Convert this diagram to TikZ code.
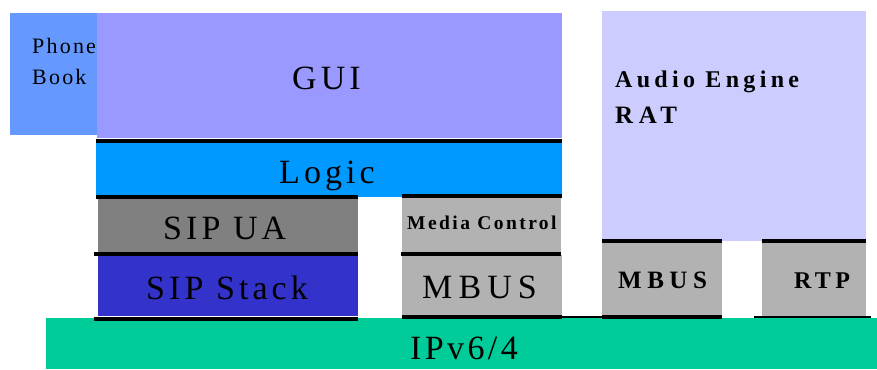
\documentclass[tikz,border=0pt]{standalone}
\usepackage{fontspec}
\setmainfont{Liberation Serif}
\newfontfamily\lsreg[LetterSpace=12]{Liberation Serif}
\newfontfamily\lsregw[LetterSpace=18]{Liberation Serif}
\newfontfamily\lsregn[LetterSpace=10]{Liberation Serif}
\newfontfamily\lsbold[LetterSpace=18]{Liberation Serif}
\newfontfamily\lsboldw[LetterSpace=22]{Liberation Serif}
\newfontfamily\lsboldn[LetterSpace=12.5]{Liberation Serif}
\definecolor{phonec}{HTML}{6699FF}
\definecolor{guic}{HTML}{9999FF}
\definecolor{logicc}{HTML}{0099FF}
\definecolor{uac}{HTML}{808080}
\definecolor{stackc}{HTML}{3333CC}
\definecolor{greyc}{HTML}{B2B2B2}
\definecolor{ipc}{HTML}{00CC99}
\definecolor{audioc}{HTML}{CCCCFF}
\tikzset{
  lbl/.style={anchor=base west, inner sep=0pt, text=black},
  big/.style={lbl, font=\lsreg\fontsize{34}{40}\selectfont},
  bigw/.style={lbl, font=\lsregw\fontsize{34}{40}\selectfont},
  bign/.style={lbl, font=\lsregn\fontsize{34}{40}\selectfont},
  midb/.style={lbl, font=\lsbold\bfseries\fontsize{24}{28}\selectfont},
  midbw/.style={lbl, font=\lsboldw\bfseries\fontsize{25}{28}\selectfont},
  smallb/.style={lbl, font=\lsboldn\bfseries\fontsize{19.5}{24}\selectfont},
  phonef/.style={lbl, font=\lsregn\fontsize{22}{26}\selectfont},
  bar/.style={line width=4pt, black},
  thinbar/.style={line width=2.5pt, black}
}
\begin{document}
\begin{tikzpicture}[x=1pt,y=-1pt]
\useasboundingbox (0,0) rectangle (877,369);
% boxes
\fill[phonec] (10,13) rectangle (99,135);
\fill[guic] (97,13) rectangle (562,138);
\fill[logicc] (96,142) rectangle (562,197);
\fill[uac] (98,199) rectangle (358,252);
\fill[stackc] (98,255) rectangle (358,316);
\fill[greyc] (402,198) rectangle (561,253);
\fill[greyc] (402,255) rectangle (562,316);
\fill[ipc] (46,318) rectangle (877,369);
\fill[audioc] (602,11) rectangle (866,241);
\fill[greyc] (602,241) rectangle (722,316);
\fill[greyc] (762,241) rectangle (866,316);
% black separator bars
\draw[bar] (96,140.5) -- (562,140.5);
\draw[bar] (96,197) -- (358,197);
\draw[bar] (402,196) -- (562,196);
\draw[bar] (94,253.5) -- (358,253.5);
\draw[bar] (401,254) -- (561,254);
\draw[bar] (94,318.5) -- (358,318.5);
\draw[bar] (402,317) -- (562,317);
\draw[thinbar] (562,317) -- (602,317);
\draw[bar] (602,317) -- (722,317);
\draw[bar] (602,240.5) -- (722,240.5);
\draw[bar] (762,240.5) -- (866,240.5);
\draw[line width=2pt] (754,317) -- (871,317);
% labels
\node[phonef] (phone) at (32,54) {Phone};
\node[phonef] (book) at (32,84) {Book};
\node[big] (gui) at (292,89) {GUI};
\node[big] (logic) at (279,183) {Logic};
\node[big] (sipua) at (163,239) {SIP UA};
\node[big] (sipstack) at (146,299) {SIP Stack};
\node[smallb] (media) at (407,229) {Media Control};
\node[bigw] (mbusl) at (422,298) {MBUS};
\node[midbw] (mbusr) at (618,288) {MBUS};
\node[midb] (rtp) at (794,288) {RTP};
\node[bign] (ip) at (410,359) {IPv6/4};
\node[midb] (audio) at (615,87) {Audio Engine};
\node[midbw] (rat) at (615,123) {RAT};
\end{tikzpicture}
\end{document}
